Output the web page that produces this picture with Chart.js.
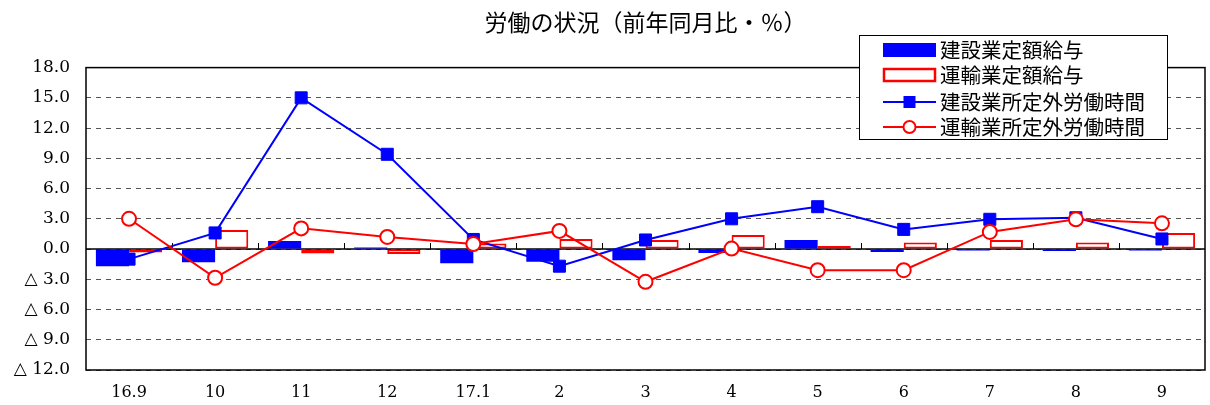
<!DOCTYPE html>
<html lang="ja">
<head>
<meta charset="utf-8">
<title>労働の状況</title>
<script src="https://cdn.jsdelivr.net/npm/chart.js@4.4.1/dist/chart.umd.min.js"></script>
<style>
  html, body { margin: 0; padding: 0; background: #fff; }
  #wrap { width: 1210px; height: 405px; }
</style>
</head>
<body>
<div id="wrap"><canvas id="chart" width="1210" height="405"></canvas></div>
<script>
const categories = ['16.9', '10', '11', '12', '17.1', '2', '3', '4', '5', '6', '7', '8', '9'];

const constructionWage  = [-1.7, -1.3, 0.8, 0.15, -1.4, -1.25, -1.1, -0.4, 0.9, -0.3, -0.15, -0.2, -0.15];
const transportWage     = [-0.35, 1.9, -0.45, -0.5, 0.55, 1.0, 0.9, 1.4, 0.3, 0.65, 0.9, 0.65, 1.6];
const constructionHours = [-1.0, 1.6, 15.0, 9.4, 0.95, -1.7, 0.9, 3.0, 4.2, 1.95, 2.95, 3.1, 1.0];
const transportHours    = [3.0, -2.85, 2.05, 1.2, 0.5, 1.8, -3.25, 0.05, -2.1, -2.1, 1.7, 2.95, 2.55];

const seriesNames = ['建設業定額給与', '運輸業定額給与', '建設業所定外労働時間', '運輸業所定外労働時間'];

const BLUE = '#0000ff';
const RED = '#ff0000';
const JP_FONT = "'Noto Sans CJK JP', 'Noto Sans', sans-serif";
const NUM_FONT = "'DejaVu Serif', 'Liberation Serif', serif";

// zero line, frame and the small category ticks on the zero line
const framePlugin = {
  id: 'frame',
  beforeDatasetsDraw(chart) {
    const { ctx, chartArea: a, scales: { x, y } } = chart;
    const y0 = y.getPixelForValue(0);
    ctx.save();
    ctx.strokeStyle = '#000';
    ctx.lineWidth = 1.5;
    ctx.beginPath();
    ctx.moveTo(a.left, y0);
    ctx.lineTo(a.right, y0);
    ctx.stroke();
    ctx.lineWidth = 1;
    ctx.beginPath();
    for (let i = 0; i < categories.length - 1; i++) {
      const px = Math.round(x.getPixelForValue(i + 0.5)) + 0.5;
      ctx.moveTo(px, y0 - 6);
      ctx.lineTo(px, y0);
    }
    ctx.stroke();
    ctx.restore();
  },
  afterDatasetsDraw(chart) {
    const { ctx, chartArea: a } = chart;
    ctx.save();
    ctx.strokeStyle = '#000';
    ctx.lineWidth = 1.5;
    ctx.strokeRect(a.left, a.top, a.right - a.left, a.bottom - a.top);
    ctx.restore();
  },
};

// boxed legend sitting over the top right of the plot
const legendBoxPlugin = {
  id: 'legendBox',
  afterDraw(chart) {
    const ctx = chart.ctx;
    const bx = 859, by = 35, bw = 308, bh = 104;
    const rows = [50, 75, 102, 127];
    const sx = 883, sw = 53;
    ctx.save();
    ctx.fillStyle = '#fff';
    ctx.fillRect(bx, by, bw, bh);
    ctx.strokeStyle = '#000';
    ctx.lineWidth = 1;
    ctx.strokeRect(bx + 0.5, by + 0.5, bw, bh);

    // bar swatches
    ctx.fillStyle = BLUE;
    ctx.fillRect(sx, rows[0] - 7, sw, 14);
    ctx.strokeStyle = RED;
    ctx.lineWidth = 2.5;
    ctx.strokeRect(sx + 1, rows[1] - 6, sw - 2, 12);

    // line swatches
    ctx.lineWidth = 2;
    ctx.strokeStyle = BLUE;
    ctx.beginPath();
    ctx.moveTo(sx, rows[2]);
    ctx.lineTo(sx + sw, rows[2]);
    ctx.stroke();
    ctx.fillStyle = BLUE;
    ctx.fillRect(sx + sw / 2 - 6, rows[2] - 6, 12, 12);

    ctx.strokeStyle = RED;
    ctx.beginPath();
    ctx.moveTo(sx, rows[3]);
    ctx.lineTo(sx + sw, rows[3]);
    ctx.stroke();
    ctx.fillStyle = '#fff';
    ctx.beginPath();
    ctx.arc(sx + sw / 2, rows[3], 6, 0, Math.PI * 2);
    ctx.fill();
    ctx.stroke();

    ctx.fillStyle = '#000';
    ctx.font = '20.5px ' + JP_FONT;
    ctx.textBaseline = 'middle';
    seriesNames.forEach((name, i) => ctx.fillText(name, 940, rows[i]));
    ctx.restore();
  },
};

new Chart(document.getElementById('chart'), {
  data: {
    labels: categories,
    datasets: [
      {
        type: 'bar',
        label: seriesNames[0],
        data: constructionWage,
        backgroundColor: BLUE,
        borderWidth: 0,
        categoryPercentage: 0.77,
        barPercentage: 1.0,
        order: 2,
      },
      {
        type: 'bar',
        label: seriesNames[1],
        data: transportWage,
        backgroundColor: '#fff',
        borderColor: RED,
        borderWidth: 2,
        borderSkipped: false,
        categoryPercentage: 0.77,
        barPercentage: 1.0,
        order: 3,
      },
      {
        type: 'line',
        label: seriesNames[2],
        data: constructionHours,
        borderColor: BLUE,
        borderWidth: 2,
        pointStyle: 'rect',
        pointRadius: 8.5,
        pointBackgroundColor: BLUE,
        pointBorderColor: BLUE,
        pointBorderWidth: 1,
        tension: 0,
        order: 1,
      },
      {
        type: 'line',
        label: seriesNames[3],
        data: transportHours,
        borderColor: RED,
        borderWidth: 2,
        pointStyle: 'circle',
        pointRadius: 7,
        pointBackgroundColor: '#fff',
        pointBorderColor: RED,
        pointBorderWidth: 2,
        tension: 0,
        order: 0,
      },
    ],
  },
  options: {
    responsive: false,
    animation: false,
    layout: { autoPadding: false, padding: { left: 0, right: 5, top: 0, bottom: 0 } },
    plugins: {
      legend: { display: false },
      tooltip: { enabled: false },
      title: {
        display: true,
        text: '労働の状況（前年同月比・％）',
        fullSize: false,
        color: '#000',
        font: { family: JP_FONT, size: 23, weight: 'normal' },
        padding: { top: 8, bottom: 32 },
      },
    },
    scales: {
      x: {
        grid: { display: false, drawTicks: false },
        border: { display: false },
        ticks: { color: '#000', font: { family: NUM_FONT, size: 16 }, padding: 13, maxRotation: 0 },
        afterFit: s => { s.height = 35; s.paddingLeft = 0; s.paddingRight = 0; },
      },
      y: {
        min: -12,
        max: 18,
        grid: { color: '#555', lineWidth: 1, drawTicks: false },
        border: { display: false, dash: [5, 5] },
        ticks: {
          stepSize: 3,
          color: '#000',
          padding: 16,
          font: { family: NUM_FONT, size: 17 },
          callback: v => (v < 0 ? '△ ' + Math.abs(v).toFixed(1) : v.toFixed(1)),
        },
        afterFit: s => { s.width = 86; },
      },
    },
  },
  plugins: [framePlugin, legendBoxPlugin],
});
</script>
</body>
</html>
